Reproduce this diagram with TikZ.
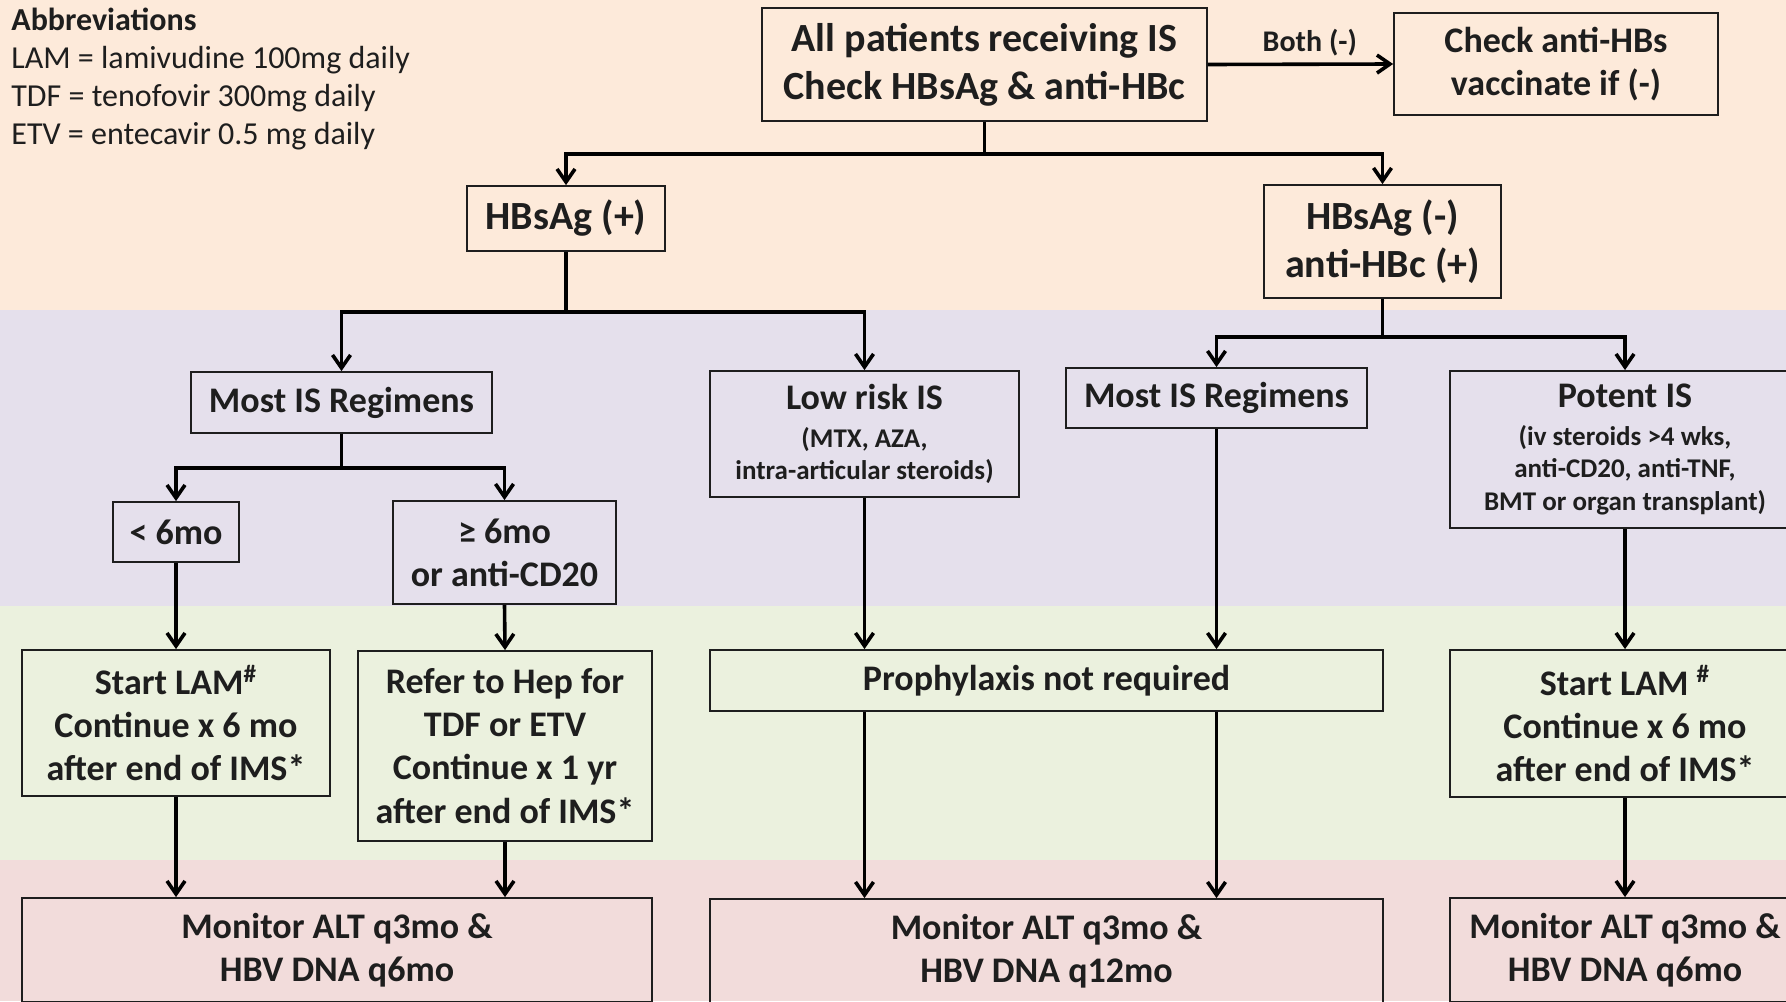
\documentclass[tikz,border=0pt]{standalone}
\usepackage{fontspec}
\setmainfont{Carlito}
\usepackage{tikz}
\usetikzlibrary{arrows.meta}
\definecolor{band-peach}{HTML}{FDEADA}
\definecolor{band-lilac}{HTML}{E5E0EC}
\definecolor{band-green}{HTML}{EBF1DE}
\definecolor{band-pink}{HTML}{F2DCDB}
\definecolor{ink}{HTML}{1E1E1E}
\tikzset{
    flow-box/.style = {draw=ink, line width=0.9pt, rectangle, align=center, inner sep=2pt, text=ink, font=\bfseries\fontsize{18}{21.6}\selectfont},
    flow-box-big/.style = {flow-box, font=\bfseries\fontsize{20}{24}\selectfont},
    flow-box-small/.style = {flow-box, font=\bfseries\fontsize{13.5}{16.3}\selectfont},
    flow-arrow/.style = {draw=black, line width=1.8pt, -{Straight Barb[length=6.5pt,width=9pt]}},
    flow-label/.style = {text=ink, font=\bfseries\fontsize{15}{18}\selectfont},
    abbrev-text/.style = {align=left, inner sep=0pt, text=ink, font=\fontsize{16}{19}\selectfont},
}
\newcommand{\boxtitle}[1]{{\fontsize{18}{21.6}\selectfont #1}}

\begin{document}
\begin{tikzpicture}[x=0.5pt, y=-0.5pt]
% colour bands
\fill[band-peach] (0,0) rectangle (1786,310);
\fill[band-lilac] (0,310) rectangle (1786,606);
\fill[band-green] (0,606) rectangle (1786,860);
\fill[band-pink] (0,860) rectangle (1786,1001);
\useasboundingbox (0,0) rectangle (1786,1001);

\node[abbrev-text, anchor=north west] (abbrev) at (11,8) {\textbf{Abbreviations}\\LAM = lamivudine 100mg daily\\TDF = tenofovir 300mg daily\\ETV = entecavir 0.5 mg daily};

% screening
\node[flow-box-big, minimum width=222.5pt, minimum height=56.5pt] (start) at (984.5,64.5) {All patients receiving IS\\Check HBsAg \& anti-HBc};
\node[flow-box, minimum width=162pt, minimum height=51pt] (vacc) at (1556,64) {Check anti-HBs\\vaccinate if (-)};
\node[flow-box-big, minimum width=99pt, minimum height=32.5pt] (hbpos) at (566,218.5) {HBsAg (+)};
\node[flow-box-big, minimum width=118.5pt, minimum height=56.5pt] (hbneg) at (1382.5,241.5) {HBsAg (-)\\anti-HBc (+)};

% regimens
\node[flow-box, minimum width=150.5pt, minimum height=30.5pt] (mostA) at (341.5,402.5) {Most IS Regimens};
\node[flow-box-small, minimum width=154.5pt, minimum height=63pt] (lowrisk) at (864.5,434) {\boxtitle{Low risk IS}\\[2.5pt](MTX, AZA,\\intra-articular steroids)};
\node[flow-box, minimum width=150.5pt, minimum height=30pt] (mostB) at (1216.5,398) {Most IS Regimens};
\node[flow-box-small, minimum width=175pt, minimum height=78.5pt] (potent) at (1625,449.5) {\boxtitle{Potent IS}\\[2.5pt](iv steroids >4 wks,\\anti-CD20, anti-TNF,\\BMT or organ transplant)};
\node[flow-box, minimum width=63pt, minimum height=30pt] (short) at (176,532) {< 6mo};
\node[flow-box, minimum width=111.5pt, minimum height=51.5pt] (long) at (504.5,552.5) {≥ 6mo\\or anti-CD20};

% prophylaxis
\node[flow-box, minimum width=154pt, minimum height=73pt] (lamA) at (176,723) {Start LAM\textsuperscript{\#}\\Continue x 6 mo\\after end of IMS*};
\node[flow-box, minimum width=147pt, minimum height=95pt] (refer) at (505,746) {Refer to Hep for\\TDF or ETV\\Continue x 1 yr\\after end of IMS*};
\node[flow-box, minimum width=336.5pt, minimum height=30.5pt] (prophy) at (1046.5,680.5) {Prophylaxis not required};
\node[flow-box, minimum width=175pt, minimum height=73.5pt] (lamB) at (1625,723.5) {Start LAM \textsuperscript{\#}\\Continue x 6 mo\\after end of IMS*};

% monitoring
\node[flow-box, minimum width=315pt, minimum height=52pt] (monA) at (337,950) {Monitor ALT q3mo \&\\HBV DNA q6mo};
\node[flow-box, minimum width=336.5pt, minimum height=52pt] (monB) at (1046.5,951) {Monitor ALT q3mo \&\\HBV DNA q12mo};
\node[flow-box, minimum width=175pt, minimum height=52pt] (monC) at (1625,950) {Monitor ALT q3mo \&\\HBV DNA q6mo};

% connectors
\draw[flow-arrow] (start.east) -- node[flow-label, above, pos=0.55] (both) {Both (-)} (vacc.west);
\draw[flow-arrow] (start.south) -- ++(0,32) -| (hbpos.north);
\draw[flow-arrow] (start.south) -- ++(0,32) -| (hbneg.north);
\draw[flow-arrow] (hbpos.south) -- ++(0,60) -| (mostA.north);
\draw[flow-arrow] (hbpos.south) -- ++(0,60) -| (lowrisk.north);
\draw[flow-arrow] (hbneg.south) -- ++(0,38) -| (mostB.north);
\draw[flow-arrow] (hbneg.south) -- ++(0,38) -| (potent.north);
\draw[flow-arrow] (mostA.south) -- ++(0,34) -| (short.north);
\draw[flow-arrow] (mostA.south) -- ++(0,34) -| (long.north);
\draw[flow-arrow] (short.south) -- (lamA.north);
\draw[flow-arrow] (long.south) -- (refer.north);
\draw[flow-arrow] (lowrisk.south) -- (lowrisk.south |- prophy.north);
\draw[flow-arrow] (mostB.south) -- (mostB.south |- prophy.north);
\draw[flow-arrow] (potent.south) -- (lamB.north);
\draw[flow-arrow] (lamA.south) -- (lamA.south |- monA.north);
\draw[flow-arrow] (refer.south) -- (refer.south |- monA.north);
\draw[flow-arrow] (prophy.south -| lowrisk.south) -- (lowrisk.south |- monB.north);
\draw[flow-arrow] (prophy.south -| mostB.south) -- (mostB.south |- monB.north);
\draw[flow-arrow] (lamB.south) -- (monC.north);
\end{tikzpicture}
\end{document}
